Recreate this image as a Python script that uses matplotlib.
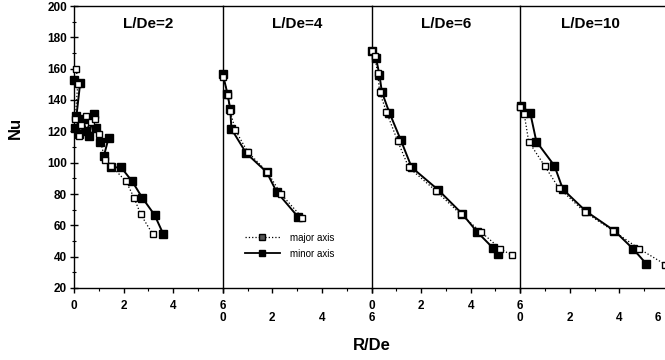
import matplotlib
matplotlib.use('Agg')
import matplotlib.pyplot as plt
from matplotlib.lines import Line2D

plt.rcParams['font.family'] = ['Liberation Sans', 'DejaVu Sans']
plt.rcParams['font.weight'] = 'bold'

# panel labels
titles = ['L/De=2', 'L/De=4', 'L/De=6', 'L/De=10']

# L/De = 2
maj_r_2 = [0.1, 0.15, 0.05, 0.3, 0.2, 0.5, 0.7, 0.85, 1.0, 1.25, 1.5, 2.1, 2.42, 2.69, 3.17]
maj_nu_2 = [159.5, 150, 128, 124, 117, 130, 126, 128, 118, 102, 98, 88, 77.7, 67, 54.5]
min_r_2 = [0.0, 0.25, 0.1, 0.2, 0.05, 0.35, 0.5, 0.8, 0.6, 0.9, 1.05, 1.4, 1.2, 1.5, 1.9, 2.35, 2.75, 3.25, 3.6]
min_nu_2 = [153, 151, 130, 118, 122, 128, 120, 131, 117, 122, 113, 116, 104, 97, 97, 88, 77.7, 66.6, 54.5]

# L/De = 4
maj_r_4 = [0.02, 0.2, 0.3, 0.5, 1.0, 1.8, 2.35, 3.2]
maj_nu_4 = [155, 143, 133, 121, 107, 94, 80, 65]
min_r_4 = [0.0, 0.19, 0.3, 0.35, 0.95, 1.77, 2.17, 3.03]
min_nu_4 = [156.7, 144, 134.5, 121.5, 106, 94, 81.5, 65.5]

# L/De = 6
maj_r_6 = [0.0, 0.13, 0.25, 0.33, 0.6, 1.05, 1.5, 2.6, 3.6, 4.4, 5.2, 5.65]
maj_nu_6 = [171, 168, 157, 145, 132.5, 114, 97, 82, 67, 56, 45, 41]
min_r_6 = [0.0, 0.18, 0.32, 0.42, 0.72, 1.18, 1.62, 2.7, 3.65, 4.25, 4.9, 5.1]
min_nu_6 = [171.5, 167, 156, 145, 132, 114.5, 97, 82.5, 67.5, 56, 45.5, 42]

# L/De = 10
maj_r_10 = [0.0, 0.16, 0.34, 0.98, 1.55, 2.6, 3.75, 4.8, 5.85]
maj_nu_10 = [135.5, 131, 113.5, 98, 84, 68.5, 56.5, 45, 35]
min_r_10 = [0.03, 0.4, 0.65, 1.38, 1.72, 2.65, 3.8, 4.55, 5.08]
min_nu_10 = [136, 132, 113.5, 98, 83, 69, 56.5, 45, 35.5]

major = [(maj_r_2, maj_nu_2), (maj_r_4, maj_nu_4), (maj_r_6, maj_nu_6), (maj_r_10, maj_nu_10)]
minor = [(min_r_2, min_nu_2), (min_r_4, min_nu_4), (min_r_6, min_nu_6), (min_r_10, min_nu_10)]

x_ticks = [0, 2, 4, 6]
y_ticks = [20, 40, 60, 80, 100, 120, 140, 160, 180, 200]

W, H = 665, 360
fig = plt.figure(figsize=(W / 100, H / 100), dpi=100)

left_px = 74
panel_px = 148.75
top_px, bot_px = 6, 288

axes = []
for i in range(4):
    ax = fig.add_axes([(left_px + i * panel_px) / W, 1 - bot_px / H,
                       panel_px / W, (bot_px - top_px) / H])
    axes.append(ax)

for i, ax in enumerate(axes):
    mr, mn = major[i]
    nr, nn = minor[i]
    ax.plot(mr, mn, color='black', linestyle=':', linewidth=0.9,
            marker='s', markersize=5, markerfacecolor='white',
            markeredgecolor='black', markeredgewidth=1.0, zorder=3, clip_on=False)
    ax.plot(nr, nn, color='black', linestyle='-', linewidth=1.4,
            marker='s', markersize=5.5, markerfacecolor='black',
            markeredgecolor='black', zorder=2, clip_on=False)
    ax.set_xlim(0, 6)
    ax.set_ylim(20, 200)
    ax.set_xticks(x_ticks)
    ax.set_xticks([1, 3, 5], minor=True)
    labels = [str(t) for t in x_ticks]
    if i == 3:
        labels[-1] = ''  # drawn below, moved in from the figure edge
    ax.set_xticklabels(labels, fontsize=8.5, fontweight='bold')
    # labels alternate between two rows, like the original
    pad = 5.0 if i % 2 == 0 else 14.0
    ax.tick_params(axis='x', which='major', direction='out', length=3.5, width=1.0, pad=pad)
    ax.tick_params(axis='x', which='minor', direction='out', length=2, width=0.8)
    if i == 0:
        ax.set_yticks(y_ticks)
        ax.set_yticks(range(30, 200, 20), minor=True)
        ax.set_yticklabels([str(t) for t in y_ticks], fontsize=8.5, fontweight='bold')
        ax.tick_params(axis='y', which='major', direction='inout', length=6, width=1.0, pad=2)
        ax.tick_params(axis='y', which='minor', direction='inout', length=3, width=0.8)
    else:
        ax.set_yticks([])
    for s in ax.spines.values():
        s.set_linewidth(1.0)
    ax.spines['right'].set_visible(False)
    tx = 0.47 if i == 3 else 0.5
    ax.text(tx, 0.935, titles[i], transform=ax.transAxes, ha='center', va='center',
            fontsize=11, fontweight='bold')

axes[3].annotate(str(x_ticks[-1]), xy=(x_ticks[-1], 20), xytext=(-6, -17.5),
                 textcoords='offset points', ha='right', va='top',
                 fontsize=8.5, fontweight='bold', annotation_clip=False)

handles = [
    Line2D([], [], color='black', linestyle=':', linewidth=0.9, marker='s', markersize=5,
           markerfacecolor='#555555', markeredgecolor='black'),
    Line2D([], [], color='black', linestyle='-', linewidth=1.3, marker='s', markersize=5,
           markerfacecolor='black', markeredgecolor='black'),
]
leg = axes[1].legend(handles, ['major axis', 'minor axis'], loc='center left',
                     bbox_to_anchor=(0.09, 0.15), frameon=False, handlelength=3.6,
                     handletextpad=1.0, labelspacing=0.6,
                     prop={'size': 7, 'weight': 'normal'})

fig.text(15 / W, 1 - 128 / H, 'Nu', rotation=90, ha='center', va='center',
         fontsize=12, fontweight='bold')
fig.text(372 / W, 1 - 345 / H, 'R/De', ha='center', va='center',
         fontsize=12, fontweight='bold')

fig.savefig('out.png', dpi=100)
